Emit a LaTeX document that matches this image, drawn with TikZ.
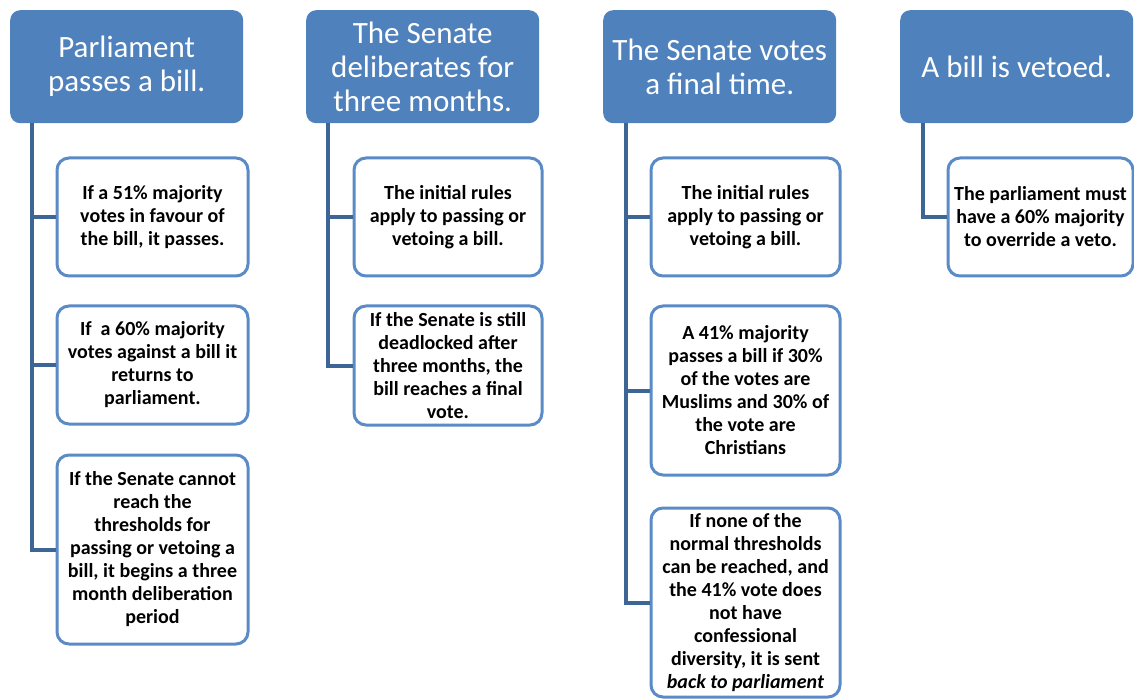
\documentclass[tikz,border=0pt]{standalone}
\usepackage{fontspec}
\setmainfont{Carlito}
\definecolor{hdr}{HTML}{4F81BD}
\definecolor{bord}{HTML}{5B8BC6}
\definecolor{conn}{HTML}{3D6697}
\begin{document}
\begin{tikzpicture}[x=1pt,y=-1pt,
  header/.style={fill=hdr, rounded corners=10pt, text=white,
    font=\fontsize{31}{34}\selectfont, align=center, anchor=north west,
    inner sep=0pt, minimum width=233pt, minimum height=113pt},
  child/.style={draw=bord, line width=3pt, fill=white, rounded corners=12pt,
    font=\bfseries\fontsize{20}{23}\selectfont, align=center, anchor=north west,
    inner sep=0pt},
  link/.style={draw=conn, line width=4pt}]
\useasboundingbox (0,0) rectangle (1134,700);

% headers
\node[header] (h1) at (10,10) {Parliament\\passes a bill.};
\node[header] (h2) at (306,10) {The Senate\\deliberates for\\three months.};
\node[header] (h3) at (603,10) {The Senate votes\\a final time.};
\node[header] (h4) at (900,10) {A bill is vetoed.};

% column 1
\node[child, minimum width=191pt, minimum height=118pt] (c1a) at (55.5,156.5)
  {If a 51\% majority\\votes in favour of\\the bill, it passes.};
\node[child, minimum width=191pt, minimum height=118pt] (c1b) at (55.5,304.5)
  {If~ a 60\% majority\\votes against a bill it\\returns to\\parliament.};
\node[child, minimum width=191pt, minimum height=189pt] (c1c) at (55.5,453.5)
  {If the Senate cannot\\reach the\\thresholds for\\passing or vetoing a\\bill, it begins a three\\month deliberation\\period};

% column 2
\node[child, minimum width=188pt, minimum height=118pt] (c2a) at (352.5,156.5)
  {The initial rules\\apply to passing or\\vetoing a bill.};
\node[child, minimum width=188pt, minimum height=119pt] (c2b) at (352.5,304.5)
  {If the Senate is still\\deadlocked after\\three months, the\\bill reaches a final\\vote.};

% column 3
\node[child, minimum width=189pt, minimum height=118pt] (c3a) at (649.5,156.5)
  {The initial rules\\apply to passing or\\vetoing a bill.};
\node[child, minimum width=189pt, minimum height=169pt] (c3b) at (649.5,304.5)
  {A 41\% majority\\passes a bill if 30\%\\of the votes are\\Muslims and 30\% of\\the vote are\\Christians};
\node[child, minimum width=189pt, minimum height=189pt] (c3c) at (649.5,506.5)
  {If none of the\\normal thresholds\\can be reached, and\\the 41\% vote does\\not have\\confessional\\diversity, it is sent\\\textit{back to parliament}};

% column 4
\node[child, minimum width=185pt, minimum height=118pt] (c4a) at (946.5,156.5)
  {The parliament must\\have a 60\% majority\\to override a veto.};

% connectors
\draw[link] ([xshift=22pt]h1.south west) |- (c1c.west);
\draw[link] ([xshift=22pt]h1.south west |- c1a.west) -- (c1a.west);
\draw[link] ([xshift=22pt]h1.south west |- c1b.west) -- (c1b.west);

\draw[link] ([xshift=22pt]h2.south west) |- (c2b.west);
\draw[link] ([xshift=22pt]h2.south west |- c2a.west) -- (c2a.west);

\draw[link] ([xshift=23pt]h3.south west) |- (c3c.west);
\draw[link] ([xshift=23pt]h3.south west |- c3a.west) -- (c3a.west);
\draw[link] ([xshift=23pt]h3.south west |- c3b.west) -- (c3b.west);

\draw[link] ([xshift=23pt]h4.south west) |- (c4a.west);
\end{tikzpicture}
\end{document}
